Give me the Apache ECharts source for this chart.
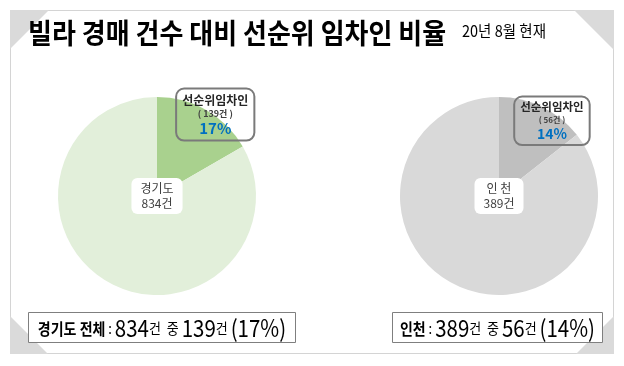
<!DOCTYPE html>
<html><head><meta charset="utf-8">
<script src="https://cdn.jsdelivr.net/npm/echarts@6/dist/echarts.min.js"></script>
<style>html,body{margin:0;padding:0;background:#fff}#c{width:624px;height:366px}</style>
</head><body><div id="c"></div>
<script>
const chartTitle = '빌라 경매 건수 대비 선순위 임차인 비율';
const chartSubtitle = '20년 8월 현재';
const regions = ['경기도', '인천'];
const regionLabels = ['경기도', '인 천'];
const summaryTitles = ['경기도 전체', '인천'];
const totalCases = [834, 389];
const seniorTenantCases = [139, 56];
const sliceName = '선순위임차인';

const FONT = '"Noto Sans CJK KR", "Noto Sans", sans-serif';
const pieColors = [['#e2efda', '#a9d18e'], ['#d9d9d9', '#bfbfbf']];
const centers = [[157, 196], [499, 196]];
const calloutOffsets = [[32, -36], [30, -28]];
const calloutSizes = [{a: 12, b: 9, c: 15, pad: [4, 6, 3, 6]}, {a: 11.5, b: 8, c: 14, pad: [3, 6, 3, 6]}];

function pct(i) { return Math.round(seniorTenantCases[i] / totalCases[i] * 100); }

function pieSeries(i) {
  const total = totalCases[i], part = seniorTenantCases[i];
  const s = calloutSizes[i];
  return {
    type: 'pie', center: centers[i], radius: 99, startAngle: 90, clockwise: true,
    silent: true, animation: false, labelLine: {show: false},
    data: [
      {name: sliceName, value: part, itemStyle: {color: pieColors[i][1]},
       label: {show: true, position: 'inside', offset: calloutOffsets[i],
         formatter: '{a|' + sliceName + '}\n{b|( ' + part + '건 )}\n{c|' + pct(i) + '%}',
         borderColor: '#7a7a7a', borderWidth: 1, borderRadius: 8, padding: s.pad,
         backgroundColor: 'transparent', align: 'center',
         rich: {
           a: {fontFamily: FONT, fontSize: s.a, fontWeight: 'bold', color: '#262626', lineHeight: s.a + 3, align: 'center'},
           b: {fontFamily: FONT, fontSize: s.b, fontWeight: 'bold', color: '#404040', lineHeight: s.b + 3, align: 'center'},
           c: {fontFamily: FONT, fontSize: s.c, fontWeight: 'bold', color: '#0070c0', lineHeight: s.c + 3, align: 'center'}
         }}},
      {name: regions[i], value: total - part, itemStyle: {color: pieColors[i][0]},
       label: {show: true, position: 'center',
         formatter: regionLabels[i] + '\n' + total + '건',
         fontFamily: FONT, fontSize: 12, lineHeight: 15, color: '#404040',
         backgroundColor: '#fff', borderRadius: 6, padding: [3, 9, 3, 9]}}
    ]
  };
}

function summary(i, box) {
  return [
    {type: 'rect', shape: {x: box[0], y: box[1], width: box[2], height: box[3]},
     style: {fill: '#fff', stroke: '#7f7f7f', lineWidth: 1}, z: 10},
    {type: 'text', x: box[0] + box[2] / 2, y: box[1] + box[3] / 2 + 1, scaleY: 1.15, z: 11,
     style: {
       text: '{t|' + summaryTitles[i] + '}{s| : }{n|' + totalCases[i] + '}{k|건  중 }{n|' + seniorTenantCases[i] + '}{k|건 }{n|(' + pct(i) + '%)}',
       align: 'center', verticalAlign: 'middle', textAlign: 'center', textVerticalAlign: 'middle',
       rich: {
         t: {fontFamily: FONT, fontSize: 14, fontWeight: 'bold', fill: '#000', color: '#000'},
         s: {fontFamily: FONT, fontSize: 13, fill: '#000', color: '#000'},
         n: {fontFamily: FONT, fontSize: 20.5, fill: '#000', color: '#000'},
         k: {fontFamily: FONT, fontSize: 13, fill: '#000', color: '#000'}
       }
     }}
  ];
}

const tri = '#dadada';
const graphics = [
  {type: 'rect', shape: {x: 10.5, y: 10.5, width: 603, height: 343}, style: {fill: 'none', stroke: '#d4d4d4', lineWidth: 1}, z: 1},
  {type: 'polygon', shape: {points: [[10, 10], [49, 10], [10, 49]]}, style: {fill: tri}, z: 2},
  {type: 'polygon', shape: {points: [[574, 10], [614, 10], [614, 50]]}, style: {fill: tri}, z: 2},
  {type: 'polygon', shape: {points: [[10, 316], [10, 354], [48, 354]]}, style: {fill: tri}, z: 2},
  {type: 'polygon', shape: {points: [[576, 354], [614, 354], [614, 316]]}, style: {fill: tri}, z: 2},
  {type: 'text', x: 28, y: 33, scaleY: 1.1, z: 5,
   style: {text: chartTitle, font: 'bold 26px ' + FONT, fill: '#000', textVerticalAlign: 'middle', verticalAlign: 'middle'}},
  {type: 'text', x: 462, y: 31, scaleY: 1.1, z: 5,
   style: {text: chartSubtitle, font: '14.5px ' + FONT, fill: '#000', textVerticalAlign: 'middle', verticalAlign: 'middle'}}
].concat(summary(0, [28.5, 312.5, 267, 30])).concat(summary(1, [392.5, 312.5, 210, 30]));

const chart = echarts.init(document.getElementById('c'), null, {renderer: 'canvas'});
chart.setOption({
  animation: false,
  backgroundColor: '#fff',
  series: [pieSeries(0), pieSeries(1)],
  graphic: graphics
});
</script></body></html>
